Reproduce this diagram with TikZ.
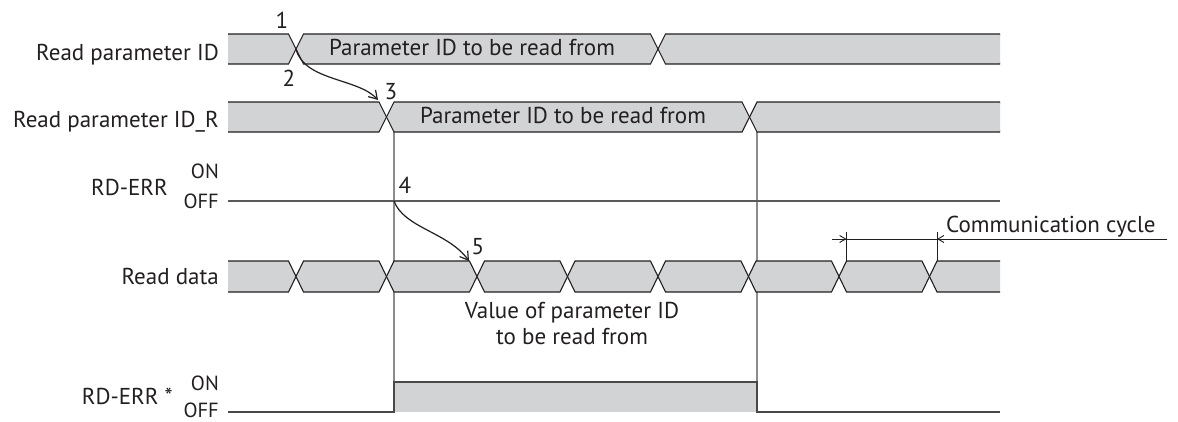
\documentclass[tikz,border=0pt]{standalone}
\usepackage{fontspec}
\setmainfont{PT Sans}
\usetikzlibrary{arrows.meta}
\definecolor{busgray}{HTML}{D1D3D4}
\definecolor{busline}{HTML}{231F20}
\definecolor{guidegray}{HTML}{8C8C8C}
\definecolor{offgray}{HTML}{58595B}
\newcommand{\hw}{7.5}
% one gray bus segment between two crossings
\newcommand{\busseg}[4]{%
  \filldraw[bus] (#1,{(#3+#4)/2}) -- (#1+\hw,#3) -- (#2-\hw,#3) -- (#2,{(#3+#4)/2})
    -- (#2-\hw,#4) -- (#1+\hw,#4) -- cycle;}
\begin{document}
\begin{tikzpicture}[x=1pt, y=-1pt, >={Straight Barb[length=8pt,width=10pt]},
    font=\fontsize{23}{26}\selectfont,
    bus/.style={fill=busgray, draw=busline, line width=1.1pt},
    guide/.style={draw=guidegray, line width=1.4pt},
    lvl/.style={draw=offgray, line width=1.2pt},
    flow/.style={draw=busline, line width=1.2pt},
    dim/.style={draw=busline, line width=0.9pt, >={Straight Barb[length=6pt,width=7pt]}},
    lbl/.style={inner sep=0pt, text=busline},
    onoff/.style={lbl, anchor=base east, font=\fontsize{20.5}{24}\selectfont}]
  \useasboundingbox (0,0) rectangle (1178,421);

  % Hilfslinien
  \coordinate (g1top) at (394,132);
  \coordinate (g1bot) at (394,412);
  \coordinate (g2top) at (757,132);
  \coordinate (g2bot) at (757,412);
  \draw[guide] (g1top) -- (g1bot);
  \draw[guide] (g2top) -- (g2bot);

  % RD-ERR
  \coordinate (offL) at (228,201);
  \coordinate (offR) at (1000,201);
  \draw[lvl] (offL) -- (offR);

  % Busse
  \begin{scope}
    \clip (228,0) rectangle (1000,421);
    \foreach \a/\b in {220.5/296, 296/658, 658/1007.5} {\busseg{\a}{\b}{34}{64}}
    \foreach \a/\b in {220.5/386.5, 386.5/749.5, 749.5/1007.5} {\busseg{\a}{\b}{102}{132}}
    \foreach \k [evaluate=\k as \a using 205.5+90.5*\k,
                 evaluate=\k as \b using 296+90.5*\k] in {0,...,8} {\busseg{\a}{\b}{261}{292}}
  \end{scope}

  % RD-ERR *
  \fill[busgray] (394,382) rectangle (757,412);
  \draw[flow, draw=offgray!70!busline] (228,412) -- (394,412) -- (394,382) -- (757,382) -- (757,412) -- (1000,412);

  % Beschriftung links
  \node[lbl, anchor=base east] (pid) at (219,60) {Read parameter ID};
  \node[lbl, anchor=base east] (pidr) at (219,127) {Read parameter ID\_R};
  \node[lbl, anchor=base east] (err) at (168,195) {RD-ERR};
  \node[onoff] (erron) at (219,178) {ON};
  \node[onoff] (erroff) at (219,208) {OFF};
  \node[lbl, anchor=base east] (rdata) at (219,284) {Read data};
  \node[lbl, anchor=base east] (errs) at (173,404) {RD-ERR *};
  \node[onoff] (errson) at (219,390) {ON};
  \node[onoff] (errsoff) at (219,417) {OFF};

  % Texte in den Bussen
  \node[lbl, anchor=base] (pidval) at (472,55) {Parameter ID to be read from};
  \node[lbl, anchor=base] (pidrval) at (563,123) {Parameter ID to be read from};
  \node[lbl, anchor=north, align=center] (value) at (572,302)
    {Value of parameter ID\\to be read from};

  % Schritte
  \node[lbl, anchor=base] (n1) at (282,28) {1};
  \node[lbl, anchor=base] (n2) at (289,86) {2};
  \node[lbl, anchor=base] (n3) at (391,99) {3};
  \node[lbl, anchor=base] (n4) at (405,193) {4};
  \node[lbl, anchor=base] (n5) at (478,254) {5};

  \coordinate (x1) at (296,49);
  \coordinate (x3) at (378,100);
  \coordinate (x4) at (394,201);
  \coordinate (x5) at (469,261);
  \draw[flow, ->] (x1) .. controls +(8,32) and +(-20,-22) .. (x3);
  \draw[flow, ->] (x4) .. controls +(10,27) and +(-21,-29) .. (x5);

  % Kommunikationszyklus
  \coordinate (ccL) at (832,239);
  \coordinate (ccR) at (1167,239);
  \coordinate (tA) at (846.5,239);
  \coordinate (tB) at (937,239);
  \coordinate (tAtop) at (846.5,232);
  \coordinate (tAbot) at (846.5,261);
  \coordinate (tBtop) at (937,232);
  \coordinate (tBbot) at (937,261);
  \draw[dim] (tAtop) -- (tAbot);
  \draw[dim] (tBtop) -- (tBbot);
  \draw[dim] (ccL) -- (ccR);
  \draw[dim, ->] (ccL) -- (tA);
  \draw[dim, ->] (ccR) -- (tB);
  \node[lbl, anchor=base west] (cycle) at (946,232) {Communication cycle};
\end{tikzpicture}
\end{document}
